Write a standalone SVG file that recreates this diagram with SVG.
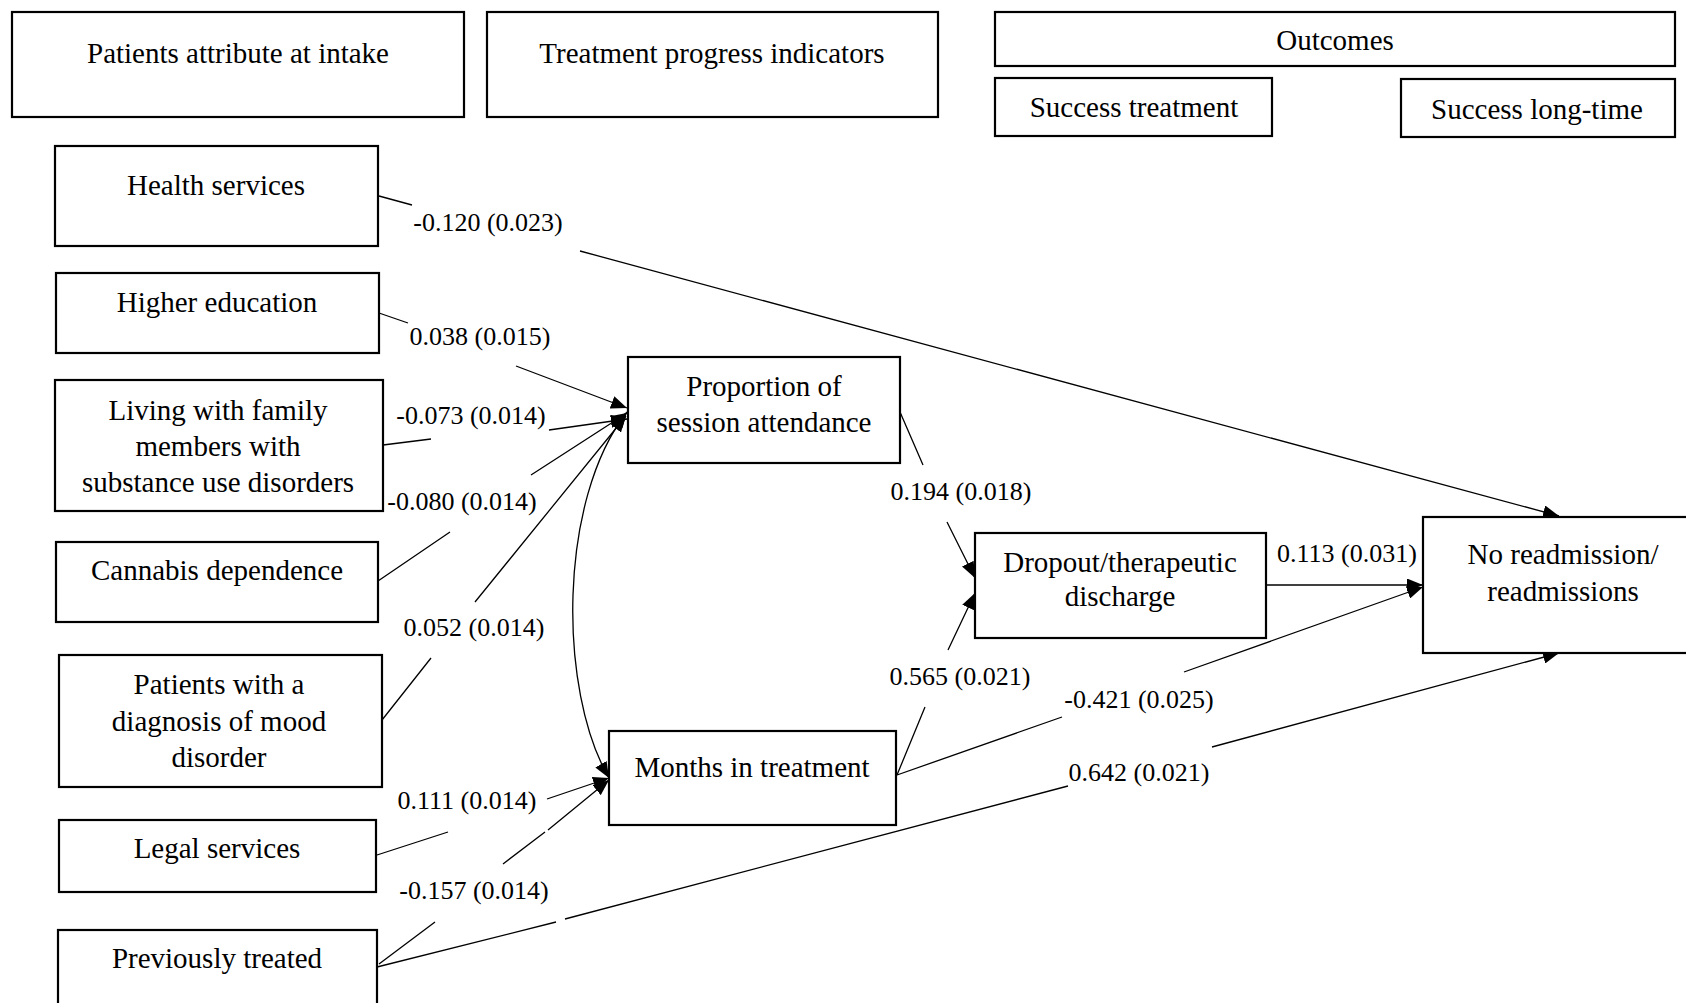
<svg xmlns="http://www.w3.org/2000/svg" width="1686" height="1003" viewBox="0 0 1686 1003">
<style>
  .box { fill: #fff; stroke: #000; stroke-width: 2.2; }
  .nt { font-family: "Liberation Serif", "Times New Roman", serif; font-size: 29px; fill: #000; text-anchor: middle; }
  .lt { font-family: "Liberation Serif", "Times New Roman", serif; font-size: 26px; fill: #000; text-anchor: middle; }
  .cn { fill: none; stroke: #000; stroke-width: 1.3; }
</style>
<defs>
  <marker id="arr" markerWidth="16" markerHeight="13" refX="16" refY="6.5" orient="auto-start-reverse" markerUnits="userSpaceOnUse">
    <path d="M0,0 L16,6.5 L0,13 z" fill="#000"/>
  </marker>
</defs>
<rect width="1686" height="1003" fill="#fff"/>

<g id="header-intake"><rect class="box" x="12" y="12" width="452" height="105"/><text class="nt" x="238" y="63">Patients attribute at intake</text></g>
<g id="header-progress"><rect class="box" x="487" y="12" width="451" height="105"/><text class="nt" x="712" y="63">Treatment progress indicators</text></g>
<g id="header-outcomes"><rect class="box" x="995" y="12" width="680" height="54"/><text class="nt" x="1335" y="50">Outcomes</text></g>
<g id="header-success-treatment"><rect class="box" x="995" y="78" width="277" height="58"/><text class="nt" x="1134" y="117">Success treatment</text></g>
<g id="header-success-long"><rect class="box" x="1401" y="79" width="274" height="58"/><text class="nt" x="1537" y="119">Success long-time</text></g>

<g id="connectors">
  <path class="cn" marker-end="url(#arr)" d="M379,196 L412,205 M580,251 L1559,516"/>
  <path class="cn" marker-end="url(#arr)" d="M379,313 L408,323 M516,366 L627,408"/>
  <path class="cn" marker-end="url(#arr)" d="M383,445 L431,439 M549,430 L627,419"/>
  <path class="cn" marker-end="url(#arr)" d="M378,581 L450,532 M531,475 L627,413"/>
  <path class="cn" marker-end="url(#arr)" d="M382,720 L431,658 M475,602 L626,416"/>
  <path class="cn" marker-end="url(#arr)" d="M377,855 L448,832 M547,799 L609,778"/>
  <path class="cn" marker-end="url(#arr)" d="M379,964 L435,922 M503,864 L545,832 M548,830 L609,780"/>
  <path class="cn" marker-end="url(#arr)" d="M377,967 L556,922 M565,919 L1068,786 M1212,747 L1559,653"/>
  <path class="cn" marker-start="url(#arr)" marker-end="url(#arr)" d="M627,412 C558,500 558,690 609,778"/>
  <path class="cn" marker-end="url(#arr)" d="M900,412 L923,465 M947,522 L975,578"/>
  <path class="cn" marker-end="url(#arr)" d="M897,775 L925,707 M948,650 L975,593"/>
  <path class="cn" marker-end="url(#arr)" d="M897,775 L1062,717 M1184,672 L1423,587"/>
  <path class="cn" marker-end="url(#arr)" d="M1266,585 L1423,585"/>
  <text class="lt" x="488" y="231">-0.120 (0.023)</text>
  <text class="lt" x="480" y="345">0.038 (0.015)</text>
  <text class="lt" x="471" y="424">-0.073 (0.014)</text>
  <text class="lt" x="462" y="510">-0.080 (0.014)</text>
  <text class="lt" x="474" y="636">0.052 (0.014)</text>
  <text class="lt" x="467" y="809">0.111 (0.014)</text>
  <text class="lt" x="474" y="899">-0.157 (0.014)</text>
  <text class="lt" x="961" y="500">0.194 (0.018)</text>
  <text class="lt" x="960" y="685">0.565 (0.021)</text>
  <text class="lt" x="1347" y="562">0.113 (0.031)</text>
  <text class="lt" x="1139" y="708">-0.421 (0.025)</text>
  <text class="lt" x="1139" y="781">0.642 (0.021)</text>
</g>

<g id="health-services"><rect class="box" x="55" y="146" width="323" height="100"/><text class="nt" x="216" y="195">Health services</text></g>
<g id="higher-education"><rect class="box" x="56" y="273" width="323" height="80"/><text class="nt" x="217" y="312">Higher education</text></g>
<g id="living-family"><rect class="box" x="55" y="380" width="328" height="131"/><text class="nt" x="218" y="420">Living with family</text><text class="nt" x="218" y="456">members with</text><text class="nt" x="218" y="492">substance use disorders</text></g>
<g id="cannabis"><rect class="box" x="56" y="542" width="322" height="80"/><text class="nt" x="217" y="580">Cannabis dependence</text></g>
<g id="mood"><rect class="box" x="59" y="655" width="323" height="132"/><text class="nt" x="219" y="694">Patients with a</text><text class="nt" x="219" y="731">diagnosis of mood</text><text class="nt" x="219" y="767">disorder</text></g>
<g id="legal"><rect class="box" x="59" y="820" width="317" height="72"/><text class="nt" x="217" y="858">Legal services</text></g>
<g id="previously-treated"><rect class="box" x="58" y="930" width="319" height="90"/><text class="nt" x="217" y="968">Previously treated</text></g>
<g id="proportion"><rect class="box" x="628" y="357" width="272" height="106"/><text class="nt" x="764" y="396">Proportion of</text><text class="nt" x="764" y="432">session attendance</text></g>
<g id="months"><rect class="box" x="609" y="731" width="287" height="94"/><text class="nt" x="752" y="777">Months in treatment</text></g>
<g id="dropout"><rect class="box" x="975" y="533" width="291" height="105"/><text class="nt" x="1120" y="572">Dropout/therapeutic</text><text class="nt" x="1120" y="606">discharge</text></g>
<g id="no-readmission"><rect class="box" x="1423" y="517" width="290" height="136"/><text class="nt" x="1563" y="564">No readmission/</text><text class="nt" x="1563" y="601">readmissions</text></g>
</svg>
